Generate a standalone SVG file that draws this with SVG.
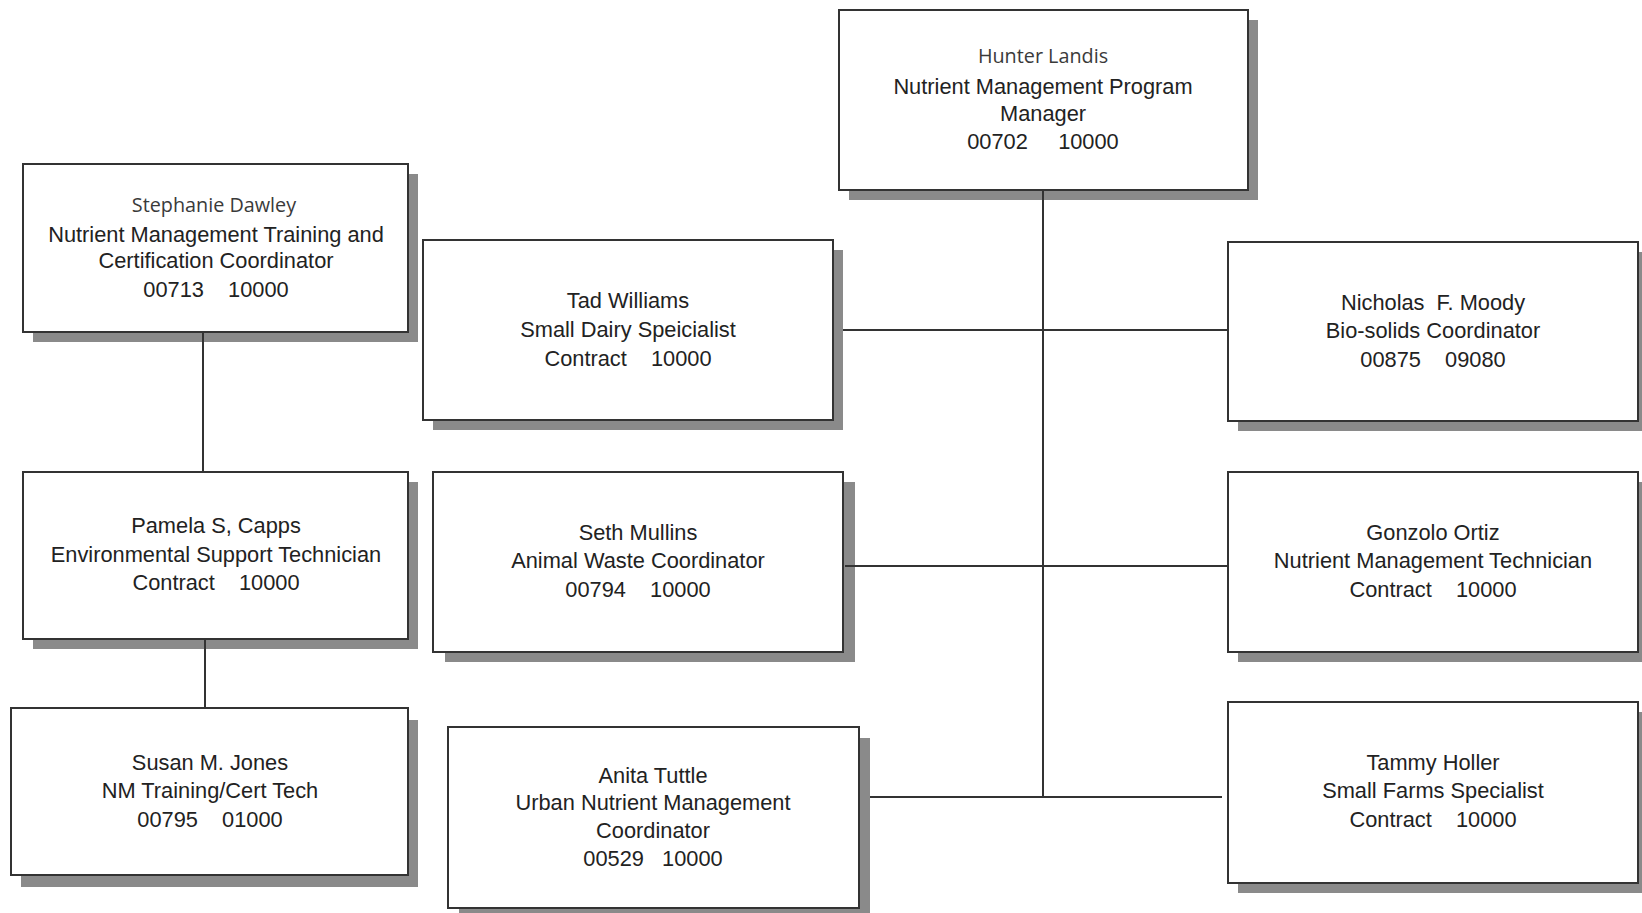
<svg xmlns="http://www.w3.org/2000/svg" width="1642" height="913" viewBox="0 0 1642 913">
<style>
.bg{fill:#ffffff}
.shadow{fill:#8a8a8a}
.box{fill:#ffffff;stroke:#333333;stroke-width:2}
.name{font-family:"Open Sans","Noto Sans","DejaVu Sans",sans-serif;font-size:19.8px;fill:#3a3a3a;text-anchor:middle;white-space:pre}
.t{font-family:"Liberation Sans",Arial,sans-serif;font-size:21.8px;fill:#222222;text-anchor:middle;white-space:pre}
.conn line{stroke:#333333;stroke-width:2;fill:none}
</style>
<rect class="bg" x="0" y="0" width="1642" height="913"/>
<g id="shadows">
<rect class="shadow" x="849" y="20" width="409" height="180"/>
<rect class="shadow" x="33" y="174" width="385" height="168"/>
<rect class="shadow" x="433" y="250" width="410" height="180"/>
<rect class="shadow" x="1238" y="252" width="410" height="179"/>
<rect class="shadow" x="33" y="482" width="385" height="167"/>
<rect class="shadow" x="445" y="482" width="410" height="180"/>
<rect class="shadow" x="1238" y="482" width="410" height="180"/>
<rect class="shadow" x="21" y="720" width="397" height="167"/>
<rect class="shadow" x="459" y="738" width="411" height="181"/>
<rect class="shadow" x="1238" y="712" width="410" height="181"/>
</g>
<g id="connectors" class="conn">
<line x1="1043" y1="190" x2="1043" y2="797"/>
<line x1="843" y1="330" x2="1228" y2="330"/>
<line x1="845" y1="566" x2="1228" y2="566"/>
<line x1="870" y1="797" x2="1222" y2="797"/>
<line x1="203" y1="332" x2="203" y2="472"/>
<line x1="205" y1="639" x2="205" y2="708"/>
</g>
<g id="hunter">
<rect class="box" x="839" y="10" width="409" height="180"/>
<text class="name" x="1043" y="63">Hunter Landis</text>
<text class="t" x="1043" y="94">Nutrient Management Program</text>
<text class="t" x="1043" y="121">Manager</text>
<text class="t" x="1043" y="149">00702     10000</text>
</g>
<g id="stephanie">
<rect class="box" x="23" y="164" width="385" height="168"/>
<text class="name" x="214" y="212">Stephanie Dawley</text>
<text class="t" x="216" y="242">Nutrient Management Training and</text>
<text class="t" x="216" y="268">Certification Coordinator</text>
<text class="t" x="216" y="297">00713    10000</text>
</g>
<g id="tad">
<rect class="box" x="423" y="240" width="410" height="180"/>
<text class="t" x="628" y="308">Tad Williams</text>
<text class="t" x="628" y="337">Small Dairy Speicialist</text>
<text class="t" x="628" y="366">Contract    10000</text>
</g>
<g id="nicholas">
<rect class="box" x="1228" y="242" width="410" height="179"/>
<text class="t" x="1433" y="310">Nicholas  F. Moody</text>
<text class="t" x="1433" y="338">Bio-solids Coordinator</text>
<text class="t" x="1433" y="367">00875    09080</text>
</g>
<g id="pamela">
<rect class="box" x="23" y="472" width="385" height="167"/>
<text class="t" x="216" y="533">Pamela S, Capps</text>
<text class="t" x="216" y="562">Environmental Support Technician</text>
<text class="t" x="216" y="590">Contract    10000</text>
</g>
<g id="seth">
<rect class="box" x="433" y="472" width="410" height="180"/>
<text class="t" x="638" y="540">Seth Mullins</text>
<text class="t" x="638" y="568">Animal Waste Coordinator</text>
<text class="t" x="638" y="597">00794    10000</text>
</g>
<g id="gonzolo">
<rect class="box" x="1228" y="472" width="410" height="180"/>
<text class="t" x="1433" y="540">Gonzolo Ortiz</text>
<text class="t" x="1433" y="568">Nutrient Management Technician</text>
<text class="t" x="1433" y="597">Contract    10000</text>
</g>
<g id="susan">
<rect class="box" x="11" y="708" width="397" height="167"/>
<text class="t" x="210" y="770">Susan M. Jones</text>
<text class="t" x="210" y="798">NM Training/Cert Tech</text>
<text class="t" x="210" y="827">00795    01000</text>
</g>
<g id="anita">
<rect class="box" x="448" y="727" width="411" height="181"/>
<text class="t" x="653" y="783">Anita Tuttle</text>
<text class="t" x="653" y="810">Urban Nutrient Management</text>
<text class="t" x="653" y="838">Coordinator</text>
<text class="t" x="653" y="866">00529   10000</text>
</g>
<g id="tammy">
<rect class="box" x="1228" y="702" width="410" height="181"/>
<text class="t" x="1433" y="770">Tammy Holler</text>
<text class="t" x="1433" y="798">Small Farms Specialist</text>
<text class="t" x="1433" y="827">Contract    10000</text>
</g>
</svg>
